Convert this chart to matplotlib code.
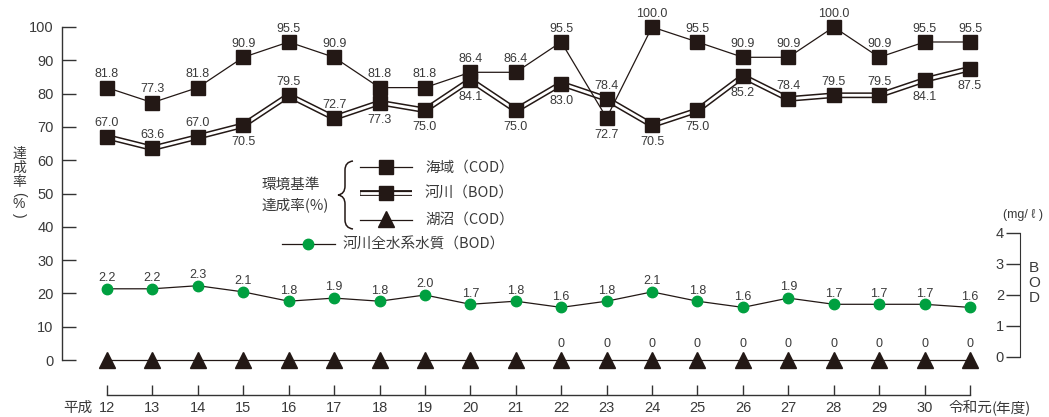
import matplotlib
matplotlib.use("Agg")
import matplotlib.pyplot as plt
from matplotlib import font_manager
from matplotlib.path import Path
from matplotlib.patches import PathPatch

# data
years = ["12", "13", "14", "15", "16", "17", "18", "19", "20", "21",
         "22", "23", "24", "25", "26", "27", "28", "29", "30", "令和元"]
sea_cod = [81.8, 77.3, 81.8, 90.9, 95.5, 90.9, 81.8, 81.8, 86.4, 86.4,
           95.5, 72.7, 100.0, 95.5, 90.9, 90.9, 100.0, 90.9, 95.5, 95.5]
river_bod = [67.0, 63.6, 67.0, 70.5, 79.5, 72.7, 77.3, 75.0, 84.1, 75.0,
             83.0, 78.4, 70.5, 75.0, 85.2, 78.4, 79.5, 79.5, 84.1, 87.5]
lake_cod = [0, 0, 0, 0, 0, 0, 0, 0, 0, 0,
            0, 0, 0, 0, 0, 0, 0, 0, 0, 0]
river_all_bod = [2.2, 2.2, 2.3, 2.1, 1.8, 1.9, 1.8, 2.0, 1.7, 1.8,
                 1.6, 1.8, 2.1, 1.8, 1.6, 1.9, 1.7, 1.7, 1.7, 1.6]

# where each value label sits: "a" = above, "b" = below
sea_label_pos = ["a"] * 11 + ["b"] + ["a"] * 8
river_label_pos = ["a", "a", "a", "b", "a", "a", "b", "b", "b", "b",
                   "b", "a", "b", "b", "b", "a", "a", "a", "b", "b"]
lake_label_shown = [False] * 10 + [True] * 10

# fonts
installed = {f.name for f in font_manager.fontManager.ttflist}
NARROW = "Liberation Sans Narrow" if "Liberation Sans Narrow" in installed else "Liberation Sans"
JP = "Noto Sans CJK JP"
num_fam = [NARROW, JP, "DejaVu Sans"]
lbl_fam = ["Liberation Sans", JP, "DejaVu Sans"]
jp_fam = [JP, "DejaVu Sans"]
plt.rcParams["font.family"] = lbl_fam
tick_size = 11 if NARROW == "Liberation Sans Narrow" else 10.5

INK = "#231815"
TXT = "#3a3a3a"
GREEN = "#00a040"

W, H = 1049, 417
fig = plt.figure(figsize=(W / 100, H / 100), dpi=100)
ax = fig.add_axes([62 / W, (H - 395) / H, (1020 - 62) / W, (395 - 27) / H])
ax.patch.set_visible(False)
x = list(range(len(years)))

ax.set_xlim(-0.99, 20.1)
ax.set_ylim(-10.5, 100)

# river (double line)
ax.plot(x, river_bod, color=INK, lw=4.2, zorder=3, solid_joinstyle="miter")
ax.plot(x, river_bod, color="white", lw=2.0, zorder=3.1, solid_joinstyle="miter")
ax.plot(x, river_bod, ls="none", marker="s", ms=10, color=INK, zorder=5)
# sea
ax.plot(x, sea_cod, color=INK, lw=0.9, marker="s", ms=10, zorder=4, clip_on=False)
# lake
ax.plot(x, lake_cod, color=INK, lw=0.9, marker="^", ms=11.5, zorder=4, clip_on=False)

for i in x:
    if sea_label_pos[i] == "a":
        ax.annotate(f"{sea_cod[i]:.1f}", (i, sea_cod[i]), xytext=(0, 7.5), textcoords="offset points",
                    ha="center", va="baseline", fontsize=9, color=TXT, annotation_clip=False)
    else:
        ax.annotate(f"{sea_cod[i]:.1f}", (i, sea_cod[i]), xytext=(0, -8), textcoords="offset points",
                    ha="center", va="top", fontsize=9, color=TXT)
    if river_label_pos[i] == "a":
        ax.annotate(f"{river_bod[i]:.1f}", (i, river_bod[i]), xytext=(0, 7.5), textcoords="offset points",
                    ha="center", va="baseline", fontsize=9, color=TXT)
    else:
        ax.annotate(f"{river_bod[i]:.1f}", (i, river_bod[i]), xytext=(0, -8), textcoords="offset points",
                    ha="center", va="top", fontsize=9, color=TXT)
    if lake_label_shown[i]:
        ax.annotate(f"{lake_cod[i]}", (i, lake_cod[i]), xytext=(0, 9.5), textcoords="offset points",
                    ha="center", va="baseline", fontsize=9, color=TXT)

# spines / ticks
for s in ["top", "right"]:
    ax.spines[s].set_visible(False)
ax.spines["left"].set_bounds(0, 100)
ax.spines["bottom"].set_bounds(0, 19)
for s in ["left", "bottom"]:
    ax.spines[s].set_color("#333333")
    ax.spines[s].set_linewidth(1.0)
ax.set_yticks(range(0, 101, 10))
ax.tick_params(axis="y", direction="in", length=10, width=1.0, pad=6, colors="#333333",
               labelsize=tick_size, labelcolor=TXT)
ax.set_xticks(x)
ax.set_xticklabels(years)
ax.tick_params(axis="x", direction="in", length=7, width=1.0, pad=4, colors="#333333",
               labelsize=tick_size, labelcolor=TXT)
for lab in ax.get_xticklabels() + ax.get_yticklabels():
    lab.set_family(num_fam)
ax.get_xticklabels()[-1].set_fontsize(10.5)

# right BOD axis
ax2 = ax.twinx()
ax2.set_ylim(-1.226, 10.645)
for s in ["top", "left", "bottom"]:
    ax2.spines[s].set_visible(False)
ax2.spines["right"].set_bounds(0, 4)
ax2.spines["right"].set_color("#333333")
ax2.set_yticks(range(0, 5))
ax2.tick_params(axis="y", direction="in", length=10, width=1.0, pad=-11.5, colors="#333333",
                labelsize=tick_size, labelcolor=TXT)
for lab in ax2.get_yticklabels():
    lab.set_family(num_fam)
    lab.set_ha("right")
ax2.plot(x, river_all_bod, color=INK, lw=0.9, zorder=2)
ax2.plot(x, river_all_bod, ls="none", marker="o", ms=7.5, color=GREEN, zorder=4)
for i in x:
    ax2.annotate(f"{river_all_bod[i]:.1f}", (i, river_all_bod[i]), xytext=(0, 5.5),
                 textcoords="offset points", ha="center", va="baseline", fontsize=9, color=TXT)

# overlay in pixel coordinates for legend and loose texts
ov = fig.add_axes([0, 0, 1, 1])
ov.set_xlim(0, W)
ov.set_ylim(H, 0)
ov.axis("off")
ov.patch.set_visible(False)

# legend samples
ov.plot([360, 412], [167, 167], color=INK, lw=0.9)
ov.plot([386], [167], marker="s", ms=10, color=INK)
ov.plot([360, 412], [193, 193], color=INK, lw=4.2, solid_capstyle="butt")
ov.plot([360, 412], [193, 193], color="white", lw=2.0, solid_capstyle="butt")
ov.plot([386], [193], marker="s", ms=10, color=INK)
ov.plot([360, 412], [220, 220], color=INK, lw=0.9)
ov.plot([386], [219], marker="^", ms=11.5, color=INK)
ov.plot([282, 335], [244, 244], color=INK, lw=0.9)
ov.plot([308], [244], marker="o", ms=7.5, color=GREEN)

ov.text(425, 168, "海域（COD）", fontsize=10.5, family=jp_fam, color=TXT, va="center")
ov.text(425, 194, "河川（BOD）", fontsize=10.5, family=jp_fam, color=TXT, va="center")
ov.text(425, 220, "湖沼（COD）", fontsize=10.5, family=jp_fam, color=TXT, va="center")
ov.text(343, 245, "河川全水系水質（BOD）", fontsize=10.5, family=jp_fam, color=TXT, va="center")
ov.text(262, 185, "環境基準", fontsize=10.5, family=jp_fam, color=TXT, va="center")
ov.text(262, 205, "達成率(%)", fontsize=10.5, family=jp_fam, color=TXT, va="center")

# brace
verts = [(353, 161), (345, 162), (345, 170), (345, 186), (345, 194), (338, 195),
         (345, 196), (345, 204), (345, 220), (345, 228), (353, 229)]
codes = [Path.MOVETO, Path.CURVE3, Path.CURVE3, Path.LINETO, Path.CURVE3, Path.CURVE3,
         Path.CURVE3, Path.CURVE3, Path.LINETO, Path.CURVE3, Path.CURVE3]
ov.add_patch(PathPatch(Path(verts, codes), fill=False, lw=1.1, edgecolor=INK))

# y label (vertical, parentheses turned sideways)
for ch, yy in zip(["達", "成", "率"], [154, 168, 182]):
    ov.text(19, yy, ch, fontsize=10, family=jp_fam, color=TXT, ha="center", va="center")
ov.text(19, 194, "(", fontsize=10, family=lbl_fam, color=TXT, ha="center", va="center",
        rotation=-90, rotation_mode="anchor")
ov.text(19, 204, "%", fontsize=10, family=lbl_fam, color=TXT, ha="center", va="center")
ov.text(19, 215, ")", fontsize=10, family=lbl_fam, color=TXT, ha="center", va="center",
        rotation=-90, rotation_mode="anchor")

# right axis labels
ov.text(1023, 215, "(mg/ ℓ )", fontsize=9, family=num_fam, color=TXT, ha="center", va="center")
for ch, yy in zip(["B", "O", "D"], [268, 283, 298]):
    ov.text(1034, yy, ch, fontsize=11, family=num_fam, color=TXT, ha="center", va="center")

# x-axis extra labels
ov.text(93, 408, "平成", fontsize=10.5, family=jp_fam, color=TXT, ha="right", va="center")
ov.text(992, 408, "(年度)", fontsize=10.5, family=jp_fam, color=TXT, ha="left", va="center")

fig.savefig("out.png", dpi=100)
